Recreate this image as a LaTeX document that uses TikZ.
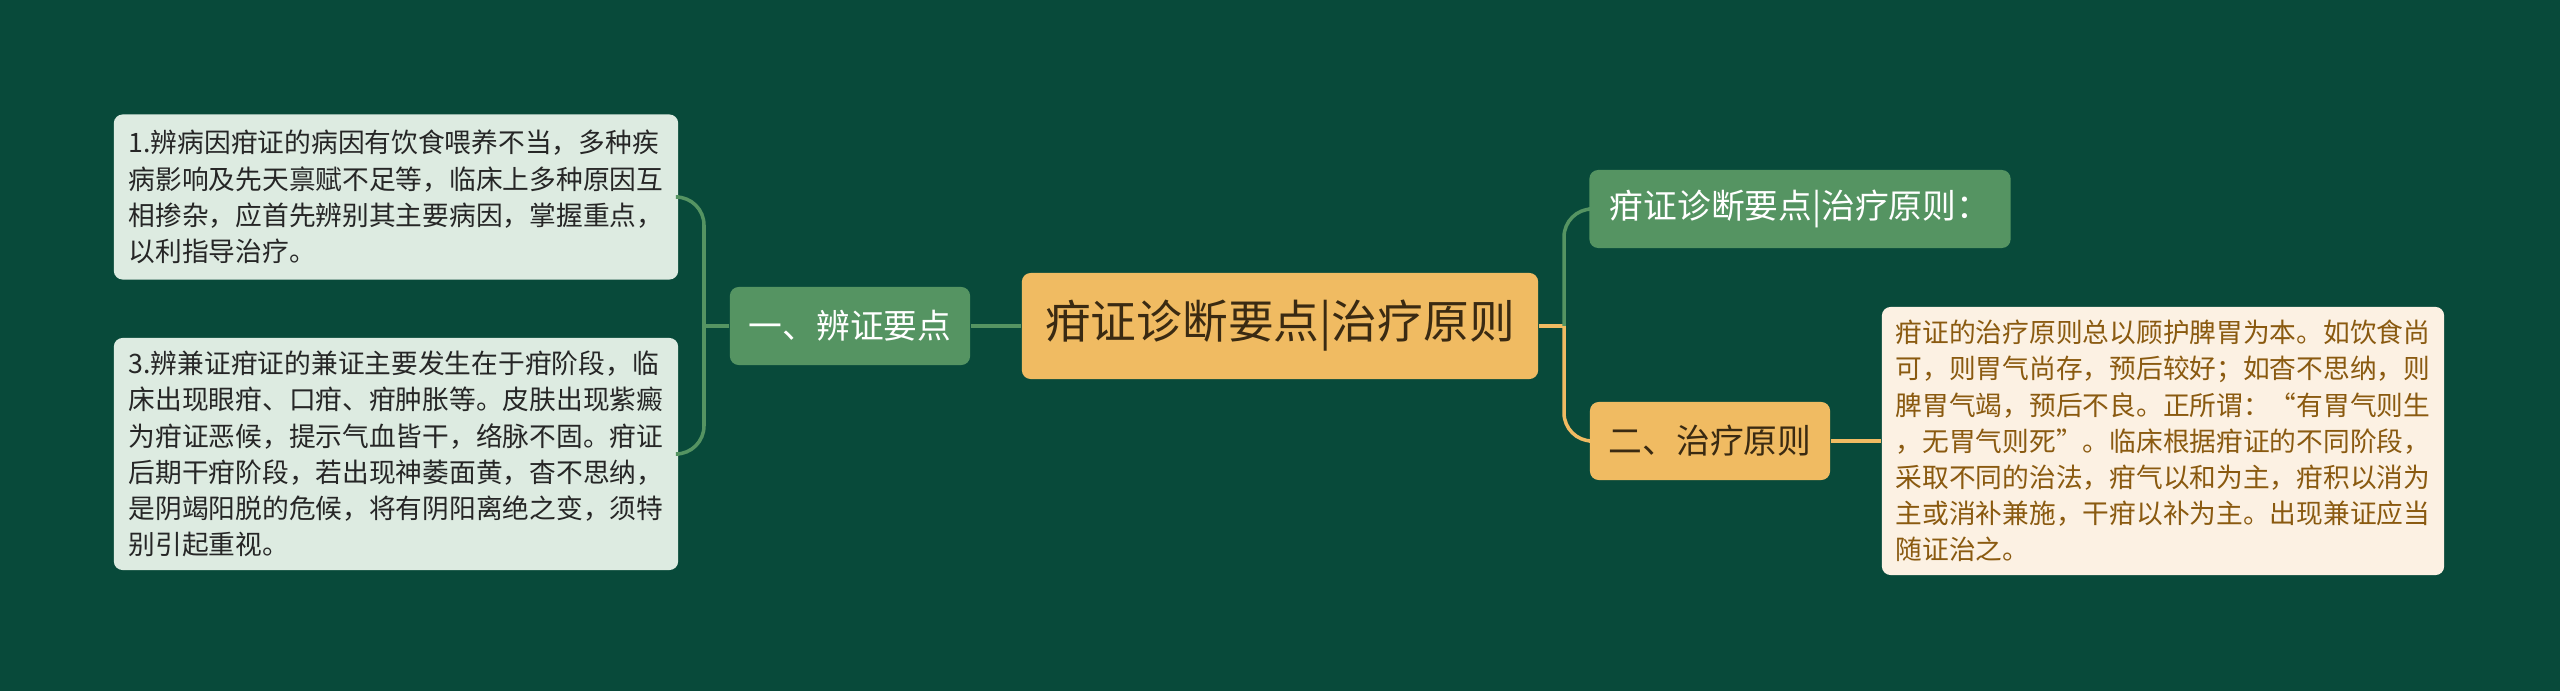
\documentclass[tikz,border=0pt]{standalone}
\usepackage{fontspec}
\setmainfont{Noto Sans CJK SC}
\usepackage{tikz}
\definecolor{bgc}{HTML}{084A3A}
\definecolor{gold}{HTML}{F0BB62}
\definecolor{leafg}{HTML}{559462}
\definecolor{pale}{HTML}{DDEBE1}
\definecolor{cream}{HTML}{FCF1E3}
\definecolor{brown}{HTML}{8A5A10}
\definecolor{ink}{HTML}{3A2A12}

\begin{document}
\begin{tikzpicture}[
      x=0.01cm, y=-0.01cm,
      root/.style={
        rounded corners=2.5pt, fill=gold, text=ink,
        minimum width=5.16cm, minimum height=1.06cm,
        font=\fontsize{13}{15}\selectfont
      },
      topic/.style={
        rounded corners=2.5pt, fill=leafg, text=white,
        minimum height=0.78cm,
        font=\fontsize{9.6}{11}\selectfont
      },
      leaf/.style={
        rounded corners=2.5pt, fill=pale, text=black!85,
        align=left, minimum width=5.64cm,
        font=\fontsize{7.6}{10.3}\selectfont
      },
      link/.style={draw=leafg, line width=1pt},
      glink/.style={draw=gold, line width=1pt}
    ]
      \fill[bgc] (0,0) rectangle (2560,691);
      \useasboundingbox (0,0) rectangle (2560,691);

      \node[root] (root) at (1280,326){疳证诊断要点|治疗原则};
      \node[topic, minimum width=2.40cm] (k1) at (850,326){一、辨证要点};
      \node[topic, minimum width=4.21cm] (k2) at (1800,209){疳证诊断要点|治疗原则：};
      \node[topic, minimum width=2.40cm, fill=gold, text=ink] (k3) at (1710,441){二、治疗原则};

      \node[leaf, minimum height=1.65cm] (t1) at (396,197){1.辨病因疳证的病因有饮食喂养不当，多种疾\\病影响及先天禀赋不足等，临床上多种原因互\\相掺杂，应首先辨别其主要病因，掌握重点，\\以利指导治疗。};
      \node[leaf, minimum height=2.32cm] (t2) at (396,454){3.辨兼证疳证的兼证主要发生在于疳阶段，临\\床出现眼疳、口疳、疳肿胀等。皮肤出现紫癜\\为疳证恶候，提示气血皆干，络脉不固。疳证\\后期干疳阶段，若出现神萎面黄，杳不思纳，\\是阴竭阳脱的危候，将有阴阳离绝之变，须特\\别引起重视。};
      \node[leaf, fill=cream, text=brown, minimum width=5.62cm, minimum height=2.68cm] (n1) at (2163,441){疳证的治疗原则总以顾护脾胃为本。如饮食尚\\可，则胃气尚存，预后较好；如杳不思纳，则\\脾胃气竭，预后不良。正所谓：“有胃气则生\\，无胃气则死”。临床根据疳证的不同阶段，\\采取不同的治法，疳气以和为主，疳积以消为\\主或消补兼施，干疳以补为主。出现兼证应当\\随证治之。};

      \coordinate (jl) at (704,326);
      \coordinate (jr) at (1564,326);

      \draw[link] (root.west)--(k1.east);
      \draw[link] (k1.west)--(jl);
      \draw[link, rounded corners=8pt] (jl) |- (t1.east);
      \draw[link, rounded corners=8pt] (jl) |- (t2.east);
      \draw[glink] (root.east)--(jr);
      \draw[link, rounded corners=8pt] (jr) |- (k2.west);
      \draw[glink, rounded corners=8pt] (jr) |- (k3.west);
      \draw[glink] (k3.east)--(n1.west);
    \end{tikzpicture}
\end{document}
